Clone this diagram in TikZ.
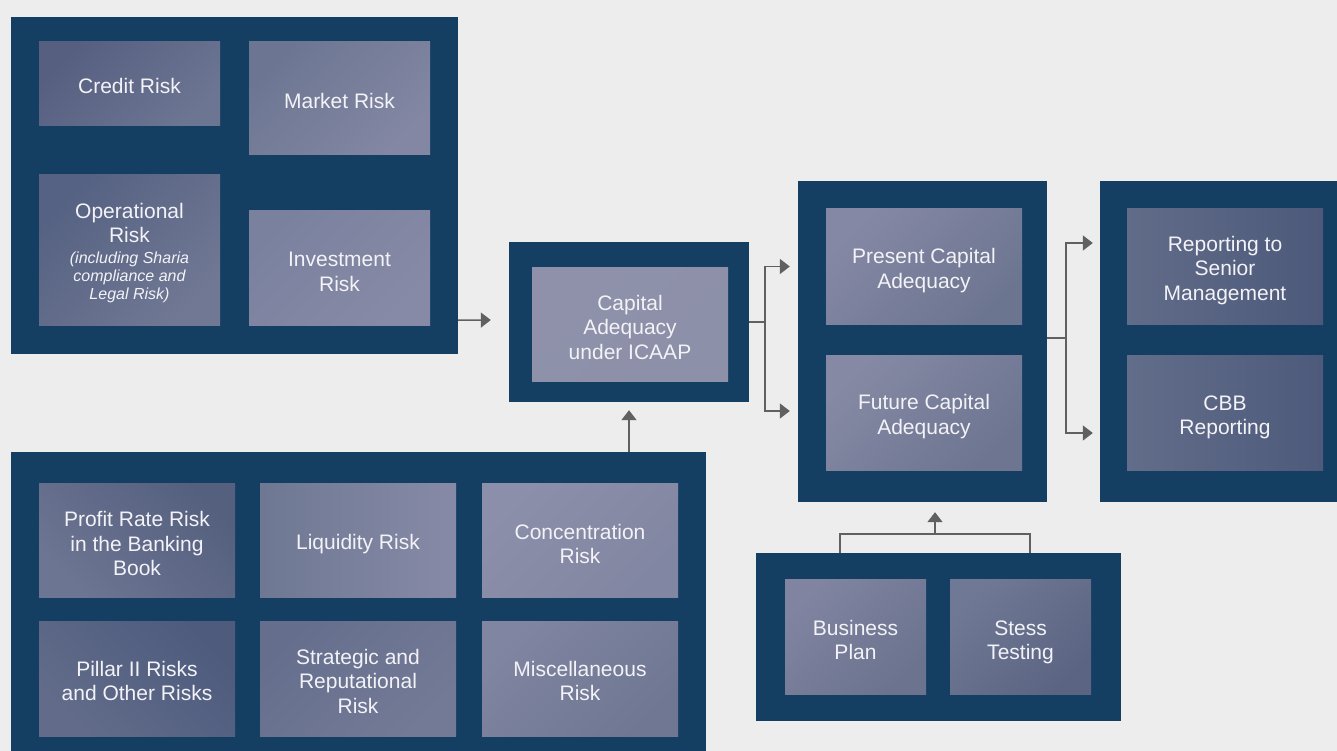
\documentclass[tikz,border=0pt]{standalone}
\usepackage{fontspec}
\setmainfont{Liberation Sans}
\usetikzlibrary{arrows.meta,calc}
\definecolor{bgc}{HTML}{EDEDED}
\definecolor{navy}{HTML}{143F62}
\definecolor{arrc}{HTML}{606060}
\definecolor{txt}{HTML}{F3F3F7}
\definecolor{creditA}{HTML}{565F80}\definecolor{creditB}{HTML}{6C7592}
\definecolor{marketA}{HTML}{6C7692}\definecolor{marketB}{HTML}{8387A3}
\definecolor{operA}{HTML}{566283}\definecolor{operB}{HTML}{707893}
\definecolor{investA}{HTML}{7A819E}\definecolor{investB}{HTML}{878AA6}
\definecolor{capA}{HTML}{8E91A9}\definecolor{capB}{HTML}{8C90A8}
\definecolor{profA}{HTML}{55607F}\definecolor{profB}{HTML}{6C7592}
\definecolor{liqA}{HTML}{6E7893}\definecolor{liqB}{HTML}{878AA6}
\definecolor{concA}{HTML}{8C8FA9}\definecolor{concB}{HTML}{8186A2}
\definecolor{pilA}{HTML}{4E5B7D}\definecolor{pilB}{HTML}{626C8A}
\definecolor{stratA}{HTML}{656F8D}\definecolor{stratB}{HTML}{737A96}
\definecolor{miscA}{HTML}{8085A1}\definecolor{miscB}{HTML}{6F7793}
\definecolor{presA}{HTML}{8588A4}\definecolor{presB}{HTML}{6C7590}
\definecolor{futA}{HTML}{8589A4}\definecolor{futB}{HTML}{6D7591}
\definecolor{repA}{HTML}{616C89}\definecolor{repB}{HTML}{4D597A}
\definecolor{cbbA}{HTML}{626D8A}\definecolor{cbbB}{HTML}{4E5A7B}
\definecolor{busA}{HTML}{8084A0}\definecolor{busB}{HTML}{6B738F}
\definecolor{stsA}{HTML}{6F7894}\definecolor{stsB}{HTML}{5B6583}
\tikzset{
  outer/.style={fill=navy,draw=none,inner sep=0pt,rectangle},
  inbox/.style n args={3}{rectangle,draw=none,inner sep=0pt,
     left color=#1,right color=#2,shading angle=#3},
  lbl/.style={align=center,text=txt,inner sep=0pt,yshift=-4pt,
     font=\fontsize{21}{24.5}\selectfont},
  conn/.style={draw=arrc,line width=1.6pt},
  arr/.style={conn,-{Triangle[length=10pt,width=15pt]}},
}
\newcommand{\smallital}[1]{{\itshape\fontsize{16}{18.3}\selectfont\begin{tabular}[t]{@{}c@{}}#1\end{tabular}}}
\begin{document}
\begin{tikzpicture}[x=1pt,y=-1pt]
\useasboundingbox[fill=bgc] (0,0) rectangle (1337,751);
% outer groups
\node[outer,minimum width=447pt,minimum height=337pt] (g1) at (234.5,185.5) {};
\node[outer,minimum width=240pt,minimum height=160pt] (g2) at (629,322) {};
\node[outer,minimum width=695pt,minimum height=308pt] (g3) at (358.5,606) {};
\node[outer,minimum width=249pt,minimum height=321pt] (g4) at (922.5,341.5) {};
\node[outer,minimum width=245pt,minimum height=321pt] (g5) at (1222.5,341.5) {};
\node[outer,minimum width=365pt,minimum height=168pt] (g6) at (938.5,637) {};
% group 1
\node[inbox={creditA}{creditB}{45},minimum width=181pt,minimum height=84pt,
  label={[lbl,yshift=2pt]center:{Credit Risk}}] (credit) at (129.5,84) {};
\node[inbox={marketA}{marketB}{45},minimum width=181pt,minimum height=113pt,
  label={[lbl,yshift=2pt]center:{Market Risk}}] (market) at (339.5,98.5) {};
\node[inbox={operA}{operB}{45},minimum width=181pt,minimum height=150pt,
  label={[lbl]center:{Operational\\Risk\\[-4pt]\smallital{(including Sharia\\compliance and\\Legal Risk)}}}] (oper) at (129.5,250) {};
\node[inbox={investA}{investB}{45},minimum width=181pt,minimum height=114pt,
  label={[lbl]center:{Investment\\Risk}}] (invest) at (339.5,268) {};
% group 2
\node[inbox={capA}{capB}{45},minimum width=196pt,minimum height=114pt,
  label={[lbl,yshift=1pt]center:{Capital\\Adequacy\\under ICAAP}}] (capital) at (630,324) {};
% group 3
\node[inbox={profA}{profB}{-45},minimum width=196pt,minimum height=114pt,
  label={[lbl,yshift=0.5pt]center:{Profit Rate Risk\\in the Banking\\Book}}] (profit) at (137,540) {};
\node[inbox={liqA}{liqB}{90},minimum width=196pt,minimum height=114pt,
  label={[lbl]center:{Liquidity Risk}}] (liquid) at (358,540) {};
\node[inbox={concA}{concB}{45},minimum width=196pt,minimum height=114pt,
  label={[lbl]center:{Concentration\\Risk}}] (conc) at (580,540) {};
\node[inbox={pilA}{pilB}{-45},minimum width=196pt,minimum height=115pt,
  label={[lbl,yshift=1.5pt]center:{Pillar II Risks\\and Other Risks}}] (pillar) at (137,678.5) {};
\node[inbox={stratA}{stratB}{45},minimum width=196pt,minimum height=115pt,
  label={[lbl,yshift=1.5pt]center:{Strategic and\\Reputational\\Risk}}] (strat) at (358,678.5) {};
\node[inbox={miscA}{miscB}{45},minimum width=196pt,minimum height=115pt,
  label={[lbl,yshift=1.5pt]center:{Miscellaneous\\Risk}}] (misc) at (580,678.5) {};
% group 4
\node[inbox={presA}{presB}{45},minimum width=196pt,minimum height=115pt,
  label={[lbl]center:{Present Capital\\Adequacy}}] (present) at (924,266.5) {};
\node[inbox={futA}{futB}{45},minimum width=196pt,minimum height=115pt,
  label={[lbl]center:{Future Capital\\Adequacy}}] (future) at (924,412.5) {};
% group 5
\node[inbox={repA}{repB}{90},minimum width=196pt,minimum height=115pt,
  label={[lbl]center:{Reporting to\\Senior\\Management}}] (report) at (1225,266.5) {};
\node[inbox={cbbA}{cbbB}{90},minimum width=196pt,minimum height=115pt,
  label={[lbl,yshift=-1pt]center:{CBB\\Reporting}}] (cbb) at (1225,412.5) {};
% group 6
\node[inbox={busA}{busB}{45},minimum width=141pt,minimum height=115pt,
  label={[lbl,yshift=0.5pt]center:{Business\\Plan}}] (business) at (855.5,636.5) {};
\node[inbox={stsA}{stsB}{45},minimum width=141pt,minimum height=115pt,
  label={[lbl,yshift=-2pt]center:{Stess\\Testing}}] (stress) at (1020.5,636.5) {};
% connectors
\draw[arr] ([yshift=34pt]g1.south east) -- ($(g2.west)+(-18,-2)$);
\draw[arr] (g2.south |- g3.north) -- ($(g2.south)+(0,8)$);
\coordinate (s1) at ($(g2.east)+(16,0)$);
\draw[conn] (g2.east) -- (s1);
\draw[arr] (s1) |- ($(g4.west |- present)+(-8,0)$);
\draw[arr] (s1) |- ($(g4.west |- future)+(-8,-1.5)$);
\coordinate (s2) at ($(g4.east)+(19,-3.5)$);
\draw[conn] ($(g4.east)+(0,-3.5)$) -- (s2);
\draw[arr] (s2) |- ($(g5.west |- report)+(-7,-23.5)$);
\draw[arr] (s2) |- ($(g5.west |- cbb)+(-7,20.5)$);
\coordinate (s3) at ($(g6.north)+(-3.5,-19)$);
\draw[conn] ($(g6.north)+(-98.5,0)$) -- ++(0,-19) -| ($(g6.north)+(91.5,0)$);
\draw[arr] (s3) -- ($(g4.south)+(12.5,10)$);
\end{tikzpicture}
\end{document}
